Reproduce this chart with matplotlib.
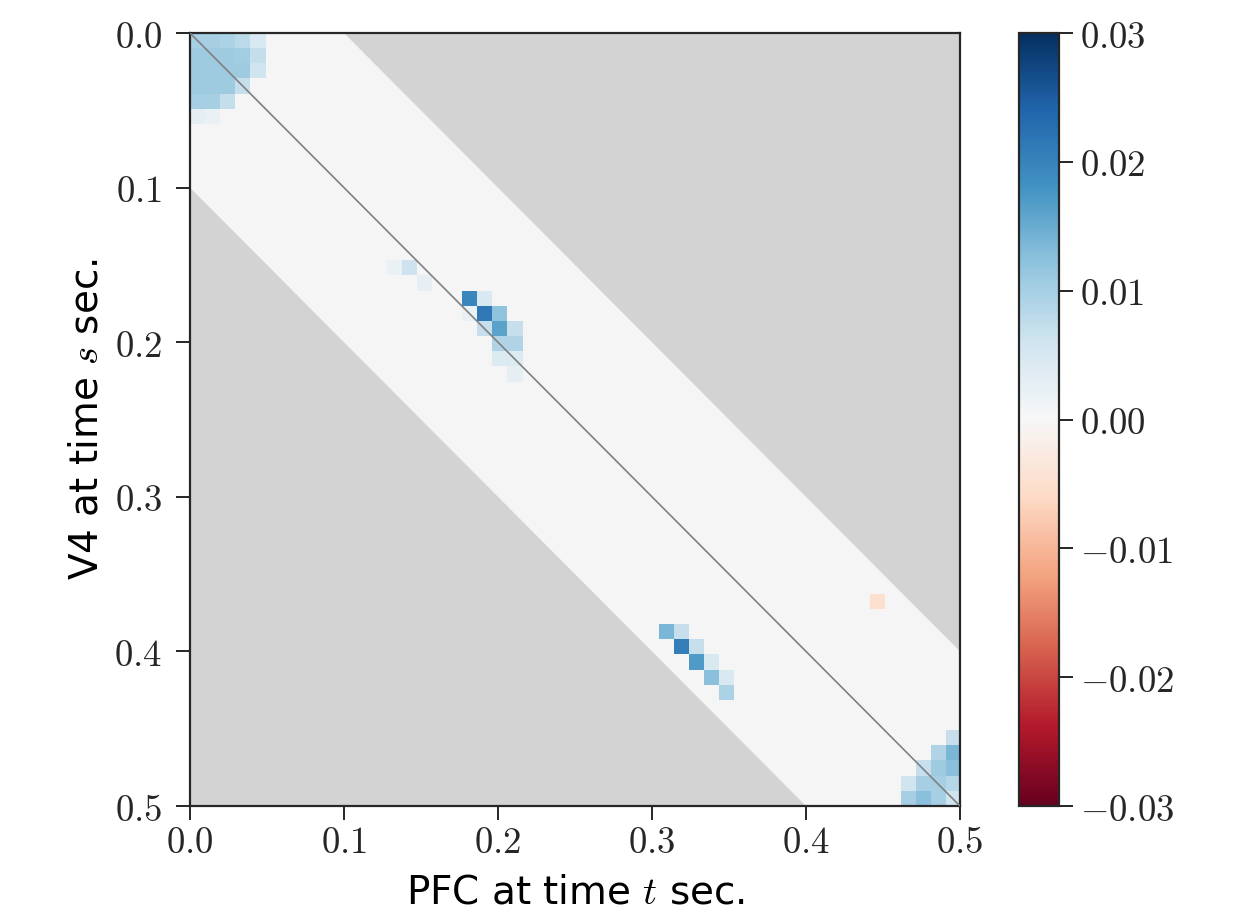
import numpy as np
import matplotlib
matplotlib.use('Agg')
import matplotlib.pyplot as plt
from matplotlib.ticker import FuncFormatter

plt.rcParams['mathtext.fontset'] = 'cm'
plt.rcParams['font.family'] = ['DejaVu Sans']

# ---- data: grid of 51 time bins over 0..0.5 s, only non-zero cells listed ----
N_BINS = 51
T_MAX = 0.5
BAND = 0.1  # max lag shown (|s - t| <= BAND)

cell_rows = [0, 0, 0, 0, 0,
             1, 1, 1, 1, 1,
             2, 2, 2, 2, 2,
             3, 3, 3, 3,
             4, 4, 4,
             5, 5,
             15, 15, 16, 17, 17, 18, 18, 18, 19, 19, 19, 20, 20, 21, 21, 22,
             37,
             39, 39, 40, 40, 41, 41, 42, 42, 43,
             46, 47, 47, 48, 48, 48, 49, 49, 49, 49, 50, 50, 50, 50]
cell_cols = [0, 1, 2, 3, 4,
             0, 1, 2, 3, 4,
             0, 1, 2, 3, 4,
             0, 1, 2, 3,
             0, 1, 2,
             0, 1,
             13, 14, 15, 18, 19, 18, 19, 20, 19, 20, 21, 20, 21, 20, 21, 21,
             45,
             31, 32, 32, 33, 33, 34, 34, 35, 35,
             50, 49, 50, 48, 49, 50, 47, 48, 49, 50, 47, 48, 49, 50]
cell_vals = [0.010, 0.010, 0.0095, 0.008, 0.0045,
             0.0107, 0.0107, 0.0107, 0.0105, 0.0072,
             0.0107, 0.0107, 0.0107, 0.0107, 0.006,
             0.0107, 0.0107, 0.0107, 0.007,
             0.010, 0.010, 0.0072,
             0.0028, 0.0019,
             0.0019, 0.0062, 0.0025, 0.0196, 0.0045, 0.002, 0.0215, 0.012,
             0.007, 0.016, 0.007, 0.009, 0.009, 0.004, 0.004, 0.0028,
             -0.005,
             0.0137, 0.007, 0.0207, 0.007, 0.0171, 0.0045, 0.0126, 0.0045, 0.0095,
             0.007, 0.009, 0.0137, 0.007, 0.0106, 0.0126, 0.006, 0.010, 0.010,
             0.0085, 0.010, 0.0126, 0.010, 0.006]

x_ticks = [0.0, 0.1, 0.2, 0.3, 0.4, 0.5]
cbar_ticks = [-0.03, -0.02, -0.01, 0.0, 0.01, 0.02, 0.03]
VLIM = 0.03

grid = np.zeros((N_BINS, N_BINS))
grid[cell_rows, cell_cols] = cell_vals
grid = np.ma.masked_equal(grid, 0.0)

fig = plt.figure(figsize=(12.45, 9.18), dpi=100)
ax = fig.add_axes([0.1526, 0.122, 0.6185, 0.842])
cax = fig.add_axes([0.8185, 0.122, 0.0325, 0.842])

ax.set_facecolor('lightgray')
t = np.linspace(0, T_MAX, 2)
ax.fill_between(t, t - BAND, t + BAND, color='whitesmoke', linewidth=0)
im = ax.imshow(grid, cmap='RdBu', vmin=-VLIM, vmax=VLIM,
               extent=[0, T_MAX, T_MAX, 0], interpolation='nearest',
               aspect='auto', zorder=2)
ax.plot([0, T_MAX], [0, T_MAX], color='gray', linewidth=1.2, zorder=3)
ax.set_xlim(0, T_MAX)
ax.set_ylim(T_MAX, 0)
ax.set_xticks(x_ticks)
ax.set_yticks(x_ticks)

fmt1 = FuncFormatter(lambda v, p: f'${v:.1f}$')
ax.xaxis.set_major_formatter(fmt1)
ax.yaxis.set_major_formatter(fmt1)
ax.tick_params(length=10, width=1.4, labelsize=26.5, color='0.15', labelcolor='0.15')
ax.tick_params(axis='x', pad=3)
ax.tick_params(axis='y', pad=10)
for sp in ax.spines.values():
    sp.set_linewidth(1.6)
    sp.set_color('0.15')

ax.set_xlabel('PFC at time $t$ sec.', fontsize=28, labelpad=9)
ax.set_ylabel('V4 at time $s$ sec.', fontsize=28, labelpad=6)

cb = fig.colorbar(im, cax=cax, ticks=cbar_ticks)
cb.ax.yaxis.set_major_formatter(FuncFormatter(lambda v, p: f'${v:.2f}$'))
cb.ax.tick_params(length=10, width=1.4, labelsize=26.5, pad=5, color='0.15', labelcolor='0.15')
cb.outline.set_linewidth(1.6)
cb.outline.set_edgecolor('0.15')

fig.savefig('out.png', dpi=100)
